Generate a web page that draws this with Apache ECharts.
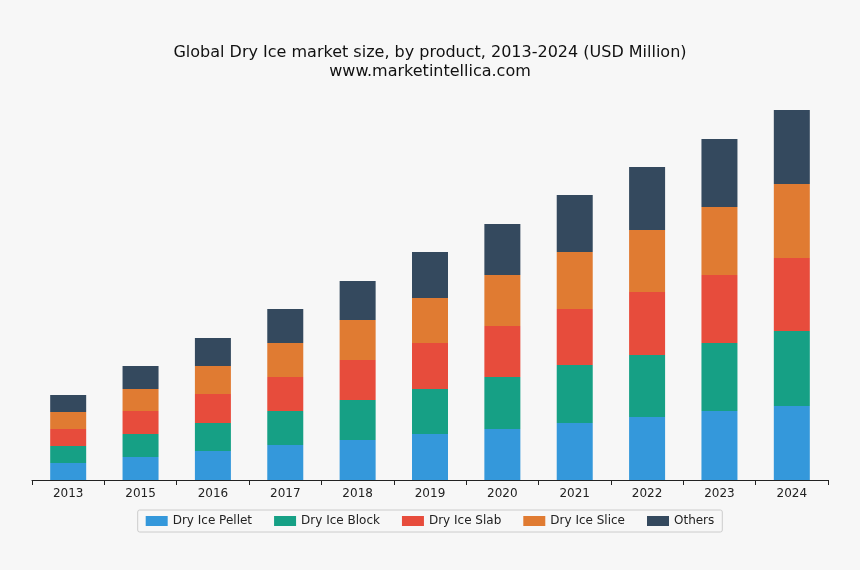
<!DOCTYPE html>
<html><head><meta charset="utf-8">
<script src="https://cdn.jsdelivr.net/npm/echarts@6/dist/echarts.min.js"></script>
<style>html,body{margin:0;background:#f7f7f7}#c{width:860px;height:570px}</style>
</head><body><div id="c"></div>
<script>
const years = ['2013','2015','2016','2017','2018','2019','2020','2021','2022','2023','2024'];
const pellet = [17,23,29,35,40,46,51,57,63,69,74];
const block  = [17,23,28,34,40,45,52,58,62,68,75];
const slab   = [17,23,29,34,40,46,51,56,63,68,73];
const slice  = [17,22,28,34,40,45,51,57,62,68,74];
const others = [17,23,28,34,39,46,51,57,63,68,74];
const names = ['Dry Ice Pellet','Dry Ice Block','Dry Ice Slab','Dry Ice Slice','Others'];
const colors = ['#3498db','#16a085','#e74c3c','#e07b32','#34495e'];
const data = [pellet,block,slab,slice,others];
const chart = echarts.init(document.getElementById('c'));
chart.setOption({
  backgroundColor:'#f7f7f7',
  textStyle:{fontFamily:'DejaVu Sans'},
  title:{text:'Global Dry Ice market size, by product, 2013-2024 (USD Million)\nwww.marketintellica.com',
    left:'center',top:38,textStyle:{fontSize:16,fontWeight:'normal',color:'#111',lineHeight:19,fontFamily:'DejaVu Sans'}},
  legend:{bottom:38,left:'center',itemWidth:22,itemHeight:10,itemGap:22,borderColor:'#ccc',borderWidth:1,borderRadius:2,padding:[5,8],
    textStyle:{fontSize:12,color:'#222'},data:names,icon:'rect'},
  grid:{left:32,right:32,top:110,bottom:90},
  xAxis:{type:'category',data:years,axisTick:{show:true,lineStyle:{color:'#222'}},axisLine:{lineStyle:{color:'#222'}},
    axisLabel:{color:'#222',fontSize:12}},
  yAxis:{type:'value',min:0,max:370,show:false},
  series:data.map((d,i)=>({name:names[i],type:'bar',stack:'a',data:d,barWidth:36,itemStyle:{color:colors[i]}}))
});
</script></body></html>
